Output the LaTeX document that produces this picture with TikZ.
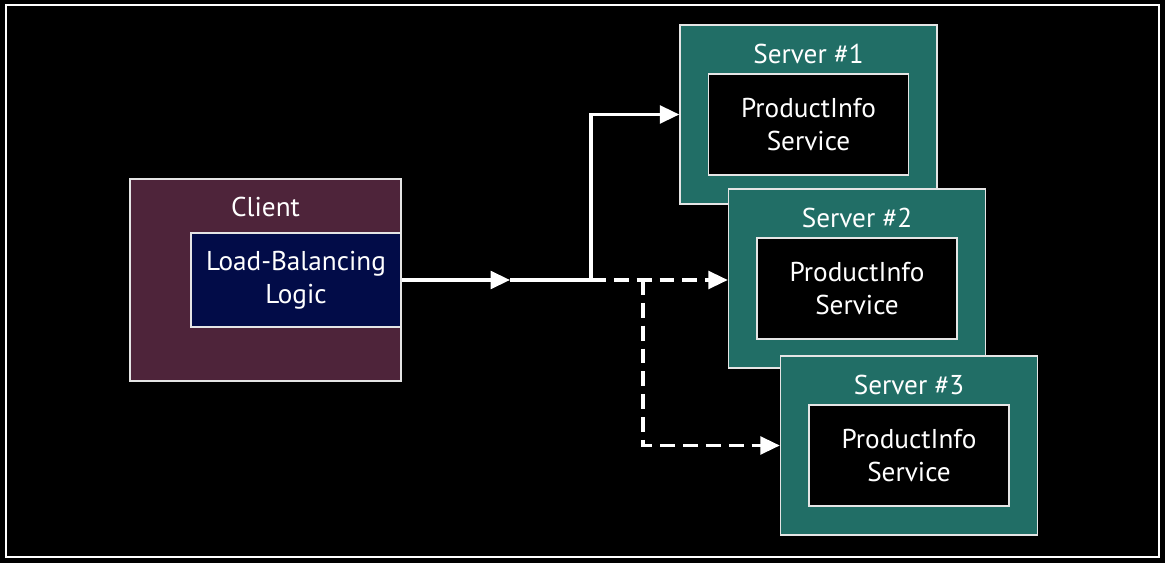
\documentclass[tikz,border=0pt]{standalone}
\usepackage{fontspec}
\setmainfont{PT Sans}
\usetikzlibrary{arrows.meta}
\definecolor{clientred}{RGB}{78,36,58}
\definecolor{lbblue}{RGB}{2,12,72}
\definecolor{srvteal}{RGB}{33,110,102}
\tikzset{
  box/.style={draw=white!90!black, line width=0.8pt, inner sep=0pt},
  txt/.style={text=white, align=center, font=\fontsize{15.5}{19}\selectfont},
  wire/.style={white, line width=1.9pt},
  dashwire/.style={wire, dash pattern=on 8.5pt off 4.5pt}
}
\begin{document}
\begin{tikzpicture}[x=0.02cm, y=-0.02cm, >={Triangle[length=11pt,width=10pt]}]
\useasboundingbox (0,0) rectangle (1165,563);
\fill[black] (0,0) rectangle (1165,563);
\draw[white, line width=1.2pt] (6,5) rectangle (1159,557);
% client side
\node[box, fill=clientred, minimum width=271*0.02cm, minimum height=202*0.02cm] (client) at (265.5,280) {};
\node[txt] (clientlbl) at (265.5,207) {Client};
\node[box, fill=lbblue, minimum width=210*0.02cm, minimum height=94*0.02cm] (lb) at (296,280) {};
\node[txt] (lbtxt) at (296,280) {Load-Balancing\\Logic};
% servers
\foreach \n/\cx/\cy in {1/808.5/114.5, 2/857/278.5, 3/909/445.5}{
  \node[box, fill=srvteal, minimum width=257*0.02cm, minimum height=179*0.02cm] (srv\n) at (\cx,\cy) {};
  \node[txt] (srvlbl\n) at (\cx,\cy-61) {Server \#\n};
  \node[box, fill=black, minimum width=200*0.02cm, minimum height=101*0.02cm] (svc\n) at (\cx,\cy+10) {};
  \node[txt] (svctxt\n) at (\cx,\cy+10) {ProductInfo\\Service};
}
% connectors
\coordinate (mid) at (510,280);
\coordinate (split) at (591,280);
\coordinate (fork) at (643,280);
\draw[wire,->] (lb.east) -- (mid);
\draw[wire] (mid) -- (split);
\draw[wire,->] (split) |- (srv1.west);
\draw[dashwire,->] (split) -- (split -| srv2.west);
\draw[dashwire,->] (fork) |- (srv3.west);
\end{tikzpicture}
\end{document}
